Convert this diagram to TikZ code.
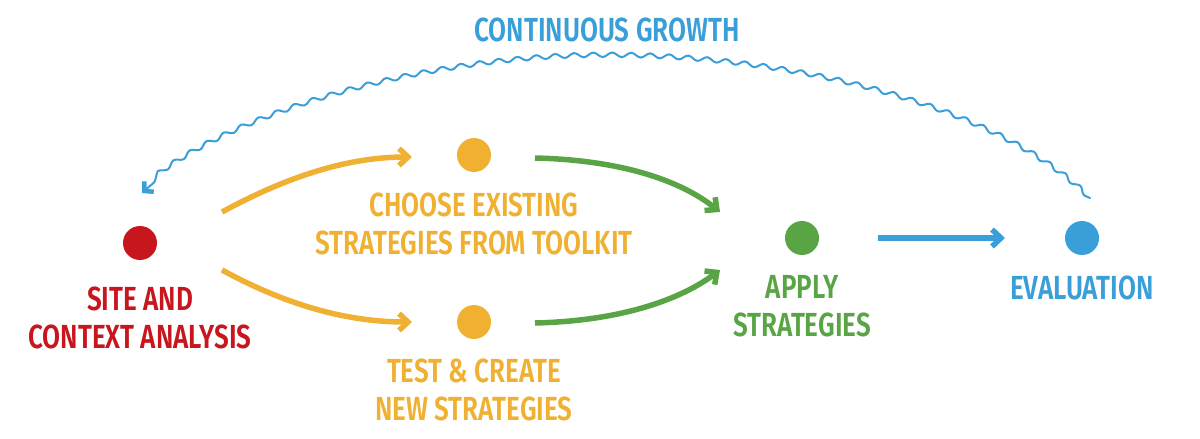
\documentclass[tikz,border=0pt]{standalone}
\usepackage{fontspec}
\setmainfont{Fira Sans}[UprightFont=* SemiBold, FakeStretch=0.78]
\usetikzlibrary{arrows.meta,positioning,decorations.pathmorphing}
\definecolor{sitered}{HTML}{C8161E}
\definecolor{stratyellow}{HTML}{F0B132}
\definecolor{applygreen}{HTML}{59A545}
\definecolor{evalblue}{HTML}{3A9FD9}

\begin{document}
\begin{tikzpicture}[
  x=0.02cm, y=-0.02cm,
  font=\fontsize{19}{21.6}\selectfont,
  dot/.style={circle, fill=#1, minimum size=0.68cm, inner sep=0pt},
  txt/.style={text=#1, align=center, inner sep=0pt},
  arrow/.style={draw=#1, line width=1.1mm, -{Straight Barb[length=1.8mm, width=3.4mm]}},
  wave/.style={draw=evalblue, line width=0.4mm, line cap=round,
    decorate, decoration={snake, amplitude=0.45mm, segment length=3.8mm, post length=1.5mm},
    -{Straight Barb[length=1.3mm, width=2.8mm, line width=0.9mm]}}
]
\useasboundingbox (0,0) rectangle (1200,439);

\node[dot=sitered] (site) at (140,243) {};
\node[dot=stratyellow] (choose) at (474,155) {};
\node[dot=stratyellow] (test) at (474,322) {};
\node[dot=applygreen] (apply) at (802,238) {};
\node[dot=evalblue] (eval) at (1082,238) {};

\node[txt=sitered, below=5.2mm of site] (sitetxt) {SITE AND\\CONTEXT ANALYSIS};
\node[txt=stratyellow, below=4mm of choose] (choosetxt) {CHOOSE EXISTING\\STRATEGIES FROM TOOLKIT};
\node[txt=stratyellow, below=3.8mm of test] (testtxt) {TEST \& CREATE\\NEW STRATEGIES};
\node[txt=applygreen, below=4mm of apply] (applytxt) {APPLY\\STRATEGIES};
\node[txt=evalblue, below=4mm of eval] (evaltxt) {EVALUATION};
\node[txt=evalblue] (growth) at (607,30) {CONTINUOUS GROWTH};

\coordinate (siteup) at (222,212);
\coordinate (sitedown) at (222,270);
\coordinate (choosein) at (412,157);
\coordinate (testin) at (412,322);
\coordinate (chooseout) at (535,158);
\coordinate (testout) at (535,323);
\coordinate (applyup) at (720,212);
\coordinate (applydown) at (720,270);
\coordinate (applyout) at (878,238);
\coordinate (evalin) at (1005,238);
\coordinate (evalout) at (1090,198);
\coordinate (growthtop) at (610,58);
\coordinate (sitein) at (142,193);

\draw[arrow=stratyellow] (siteup) .. controls (290,175) and (350,157) .. (choosein);
\draw[arrow=stratyellow] (sitedown) .. controls (290,307) and (350,322) .. (testin);
\draw[arrow=applygreen] (chooseout) .. controls (620,160) and (680,180) .. (applyup);
\draw[arrow=applygreen] (testout) .. controls (620,321) and (680,300) .. (applydown);
\draw[arrow=evalblue] (applyout) -- (evalin);
\draw[wave] (evalout) .. controls (1000,110) and (800,58) .. (growthtop)
  .. controls (420,58) and (220,120) .. (sitein);
\end{tikzpicture}
\end{document}
